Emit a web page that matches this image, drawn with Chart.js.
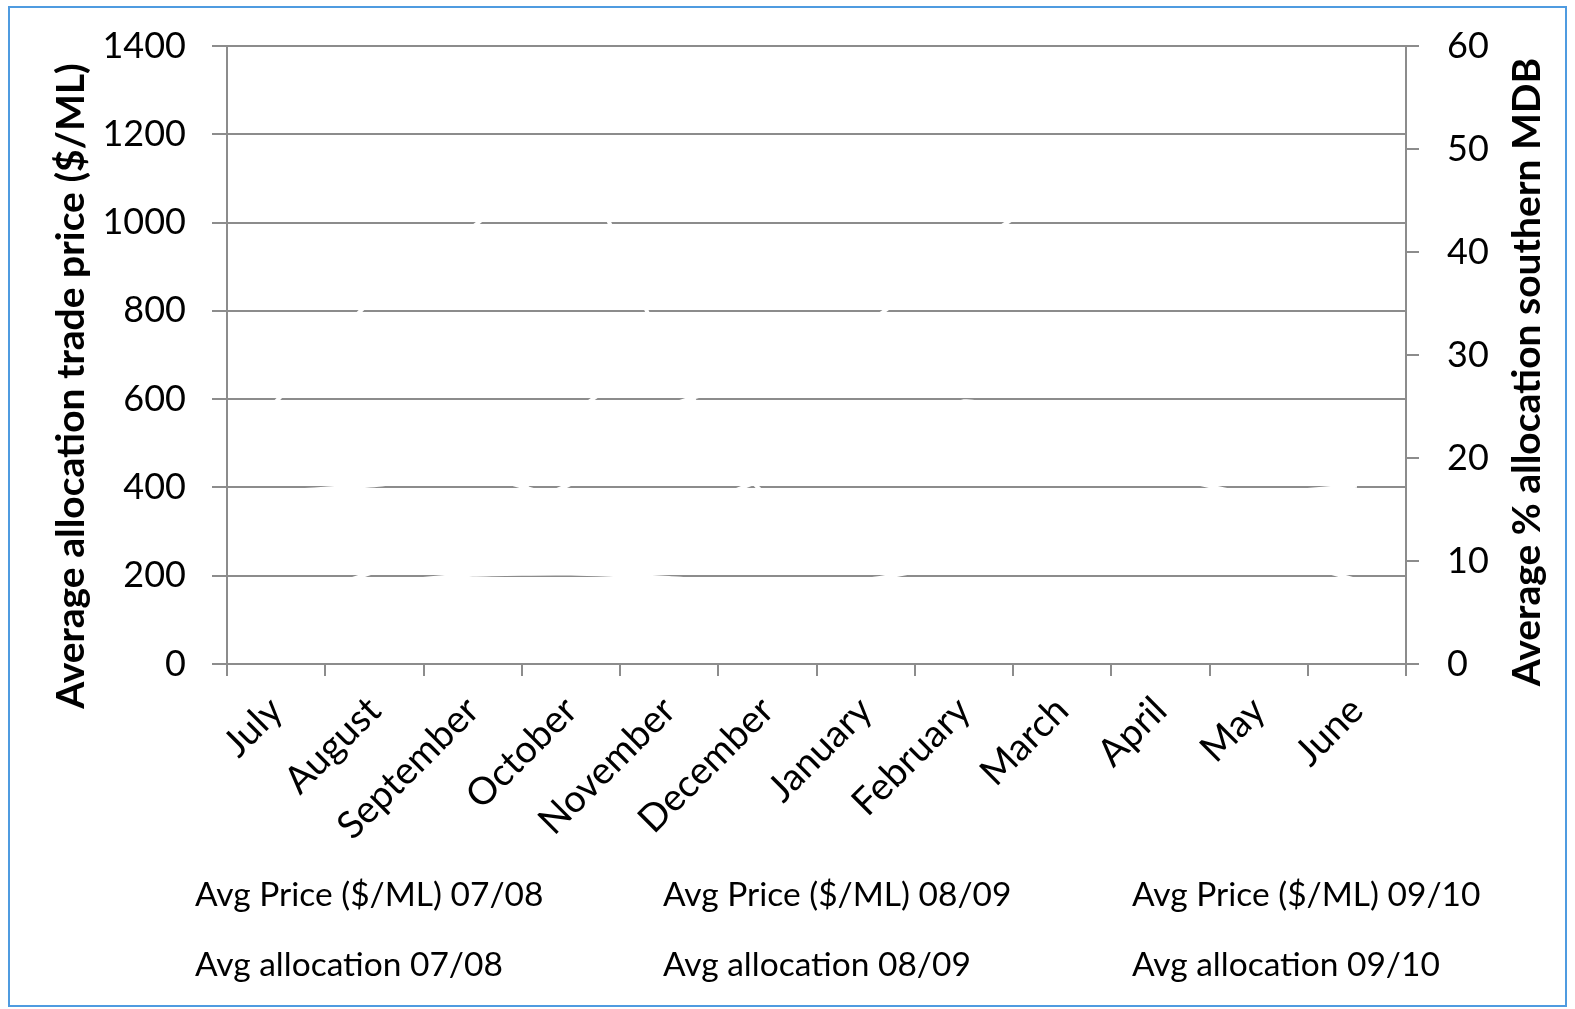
<!DOCTYPE html>
<html>
<head>
<meta charset="utf-8">
<script src="https://cdn.jsdelivr.net/npm/chart.js@4.4.1/dist/chart.umd.min.js"></script>
<style>
    html, body { margin: 0; padding: 0; background: #fff; }
    #wrap { position: relative; width: 1575px; height: 1009px; }
    #frame { position: absolute; left: 8px; top: 6px; width: 1559px; height: 1001px; border: 2px solid #4f9be0; box-sizing: border-box; pointer-events: none; }
    .leg { position: absolute; font-family: Lato, sans-serif; font-size: 33.5px; color: #000; white-space: nowrap; line-height: 40px; }
</style>
</head>
<body>
<div id="wrap">
    <canvas id="chart" width="1575" height="1009"></canvas>
    <div id="frame"></div>
    <div id="legend"></div>
</div>
<script>
// Months of the water year
const months = ['July', 'August', 'September', 'October', 'November', 'December',
                'January', 'February', 'March', 'April', 'May', 'June'];

// Average allocation trade price ($/ML) - left axis
const price0708 = [595, 830, 990, 1150, 690, 380, 360, 330, 340, 360, 380, 390];
const price0809 = [390, 405, 430, 370, 340, 420, 450, 595, 520, 430, 380, 350];
const price0910 = [150, 180, 202, 205, 195, 180, 190, 230, 260, 280, 250, 190];

// Average % allocation southern MDB - right axis
const alloc0708 = [12, 13, 14, 14.5, 15, 15, 15.5, 15.5, 16, 16, 16.5, 17.3];
const alloc0809 = [9, 9.2, 9.5, 24, 30, 31, 32, 32, 33, 33, 33, 33];
const alloc0910 = [6, 9, 14, 17.5, 25, 28, 33, 40, 46, 47, 48, 48];

const legendLabels = ['Avg Price ($/ML) 07/08', 'Avg Price ($/ML) 08/09', 'Avg Price ($/ML) 09/10',
                      'Avg allocation 07/08', 'Avg allocation 08/09', 'Avg allocation 09/10'];

const leftTitle = 'Average allocation trade price ($/ML)';
const rightTitle = 'Average % allocation southern MDB';

const gridGray = '#8c8c8c';
const tickFont = { family: 'Lato', size: 36, lineHeight: 1.0 };
const xTickFont = { family: 'Lato', size: 38 };

function line(label, data, axis) {
    return {
        label: label,
        data: data,
        yAxisID: axis,
        borderColor: '#ffffff',
        backgroundColor: '#ffffff',
        borderWidth: 4,
        pointRadius: 0,
        tension: 0.2,
        fill: false
    };
}

// Both axis titles read bottom-to-top, as in the original
const axisTitles = {
    id: 'axisTitles',
    afterDraw: function(chart) {
        const c = chart.ctx;
        c.save();
        c.fillStyle = '#000';
        c.font = 'bold 39px Lato';
        c.textAlign = 'center';
        c.textBaseline = 'middle';
        c.translate(71, 386);
        c.rotate(-Math.PI / 2);
        c.fillText(leftTitle, 0, 0);
        c.restore();
        c.save();
        c.fillStyle = '#000';
        c.font = 'bold 39px Lato';
        c.textAlign = 'center';
        c.textBaseline = 'middle';
        c.translate(1527, 372);
        c.rotate(-Math.PI / 2);
        c.fillText(rightTitle, 0, 0);
        c.restore();
    }
};

const ctx = document.getElementById('chart').getContext('2d');
const chart = new Chart(ctx, {
    type: 'line',
    data: {
        labels: months,
        datasets: [
            line(legendLabels[0], price0708, 'y'),
            line(legendLabels[1], price0809, 'y'),
            line(legendLabels[2], price0910, 'y'),
            line(legendLabels[3], alloc0708, 'y2'),
            line(legendLabels[4], alloc0809, 'y2'),
            line(legendLabels[5], alloc0910, 'y2')
        ]
    },
    plugins: [axisTitles],
    options: {
        responsive: false,
        animation: false,
        layout: {
            padding: { left: 10, top: 45, right: 15, bottom: 147 }
        },
        plugins: {
            legend: { display: false },
            tooltip: { enabled: false }
        },
        scales: {
            x: {
                offset: true,
                grid: {
                    offset: true,
                    drawOnChartArea: false,
                    drawTicks: true,
                    tickLength: 12,
                    color: gridGray,
                    lineWidth: 2
                },
                border: { color: gridGray, width: 2 },
                ticks: {
                    color: '#000',
                    font: xTickFont,
                    minRotation: 45,
                    maxRotation: 45,
                    padding: 12,
                    autoSkip: false
                },
                afterFit: function(scale) { scale.height = 198; }
            },
            y: {
                position: 'left',
                min: 0,
                max: 1400,
                grid: {
                    color: gridGray,
                    lineWidth: 2,
                    tickLength: 15
                },
                border: { color: gridGray, width: 2 },
                ticks: {
                    stepSize: 200,
                    color: '#000',
                    font: tickFont,
                    padding: 26,
                    callback: function(value) { return String(value); }
                },
                afterFit: function(scale) { scale.width = 217; }
            },
            y2: {
                position: 'right',
                min: 0,
                max: 60,
                grid: {
                    drawOnChartArea: false,
                    color: gridGray,
                    lineWidth: 2,
                    tickLength: 13
                },
                border: { color: gridGray, width: 2 },
                ticks: {
                    stepSize: 10,
                    color: '#000',
                    font: tickFont,
                    padding: 28,
                    callback: function(value) { return String(value); }
                },
                afterFit: function(scale) { scale.width = 154; }
            }
        }
    }
});

// Legend as text in a 3 x 2 grid, keys are white like the lines
const legendBox = document.getElementById('legend');
const legendCols = [195, 663, 1132];
const legendRows = [873, 943];
legendLabels.forEach(function(text, i) {
    const el = document.createElement('div');
    el.className = 'leg';
    el.textContent = text;
    el.style.left = legendCols[i % 3] + 'px';
    el.style.top = legendRows[Math.floor(i / 3)] + 'px';
    legendBox.appendChild(el);
});
</script>
</body>
</html>
